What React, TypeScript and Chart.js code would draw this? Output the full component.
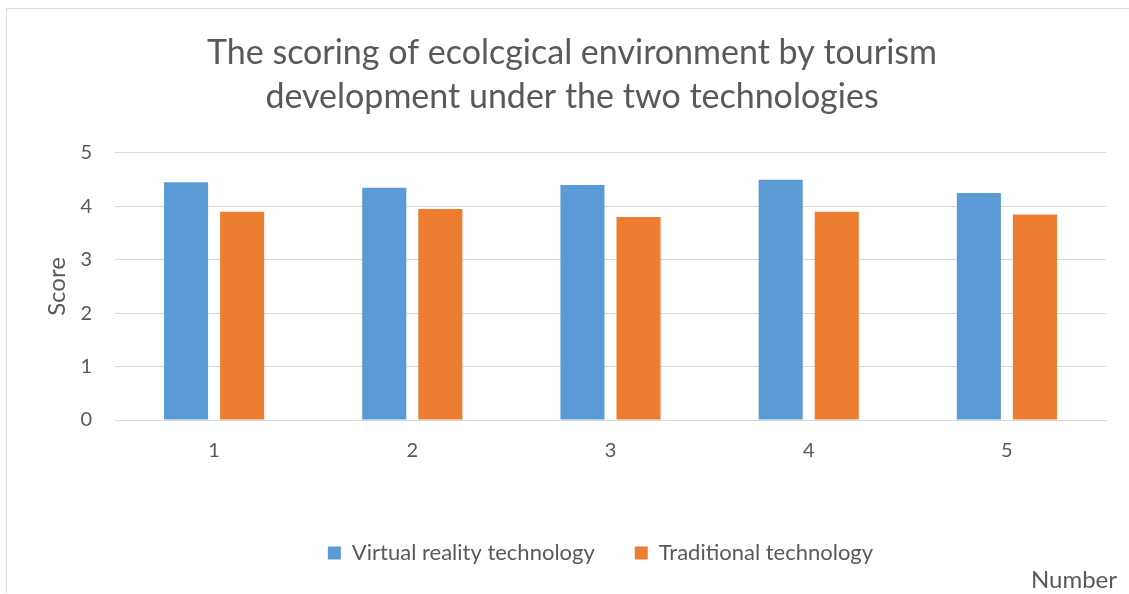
import React, { useEffect, useRef } from "react";
import { Chart, registerables } from "chart.js";

Chart.register(...registerables);

const categories = ["1", "2", "3", "4", "5"];
const vrScores = [4.45, 4.35, 4.4, 4.5, 4.25];
const traditionalScores = [3.9, 3.95, 3.8, 3.9, 3.85];
const seriesNames = ["Virtual reality technology", "Traditional technology"];
const titleLines = [
  "The scoring of ecolcgical environment by tourism",
  "development under the two technologies",
];
const yAxisTitle = "Score";
const xAxisTitle = "Number";

const FONT = "Lato";
const TEXT = "#595959";
const GRID = "#d9d9d9";

const shiftBoxes = {
  id: "shiftBoxes",
  afterLayout(chart: any) {
    const t = chart.titleBlock;
    if (t) {
      t.right += 20;
      t.width += 20;
    }
    const l = chart.legend;
    if (l) {
      l.right -= 20;
      l.width -= 20;
    }
  },
};

export default function App() {
  const ref = useRef<HTMLCanvasElement | null>(null);
  useEffect(() => {
    document.body.style.overflow = "hidden";
    if (!ref.current) return;
    const chart = new Chart(ref.current, {
      type: "bar",
      data: {
        labels: categories,
        datasets: [
          {
            label: seriesNames[0],
            data: vrScores,
            backgroundColor: "#5b9bd5",
            borderWidth: 0,
          },
          {
            label: seriesNames[1],
            data: traditionalScores,
            backgroundColor: "#ed7d31",
            borderWidth: 0,
          },
        ],
      },
      plugins: [shiftBoxes],
      options: {
        animation: false,
        responsive: false,
        maintainAspectRatio: false,
        layout: { padding: { left: 0, right: 12, top: 0, bottom: 0 } },
        datasets: {
          bar: { categoryPercentage: 0.566, barPercentage: 0.786 },
        },
        plugins: {
          tooltip: { enabled: false },
          title: {
            display: true,
            text: titleLines,
            color: TEXT,
            font: { family: FONT, size: 34, weight: "normal", lineHeight: 1.294 },
            padding: { top: 22, bottom: 34 },
          },
          subtitle: {
            display: true,
            text: xAxisTitle,
            position: "bottom",
            align: "end",
            color: TEXT,
            font: { family: FONT, size: 24, weight: "normal", lineHeight: 0.5 },
            padding: { top: 0, bottom: 7 },
          },
          legend: {
            position: "bottom",
            fullSize: false,
            labels: {
              color: TEXT,
              font: { family: FONT, size: 22 },
              boxWidth: 13,
              boxHeight: 13,
              padding: 40,
            },
          },
        },
        scales: {
          x: {
            grid: { display: false, drawTicks: false },
            border: { display: true, color: GRID, width: 1 },
            ticks: { color: TEXT, font: { family: FONT, size: 20 }, padding: 19 },
            afterFit: (s: any) => {
              s.height = 82;
            },
          },
          y: {
            min: 0,
            max: 5,
            grid: { color: GRID, drawTicks: false, lineWidth: 1 },
            border: { display: false },
            ticks: {
              stepSize: 1,
              color: TEXT,
              font: { family: FONT, size: 20 },
              padding: 23,
            },
            title: {
              display: true,
              text: yAxisTitle,
              color: TEXT,
              font: { family: FONT, size: 24 },
              padding: { top: 35.6, bottom: 0 },
            },
            afterFit: (s: any) => {
              s.width = 108;
            },
          },
          y2: {
            position: "right",
            display: true,
            grid: { display: false },
            border: { display: false },
            ticks: { display: false },
            afterFit: (s: any) => {
              s.width = 11;
            },
          },
        },
      },
    });
    return () => chart.destroy();
  }, []);
  return (
    <div
      style={{
        position: "absolute",
        left: 6,
        top: 8,
        width: 1122,
        height: 584,
        borderLeft: `1px solid ${GRID}`,
        borderTop: `1px solid ${GRID}`,
        background: "#fff",
      }}
    >
      <canvas ref={ref} width={1122} height={584} style={{ display: "block" }} />
    </div>
  );
}
